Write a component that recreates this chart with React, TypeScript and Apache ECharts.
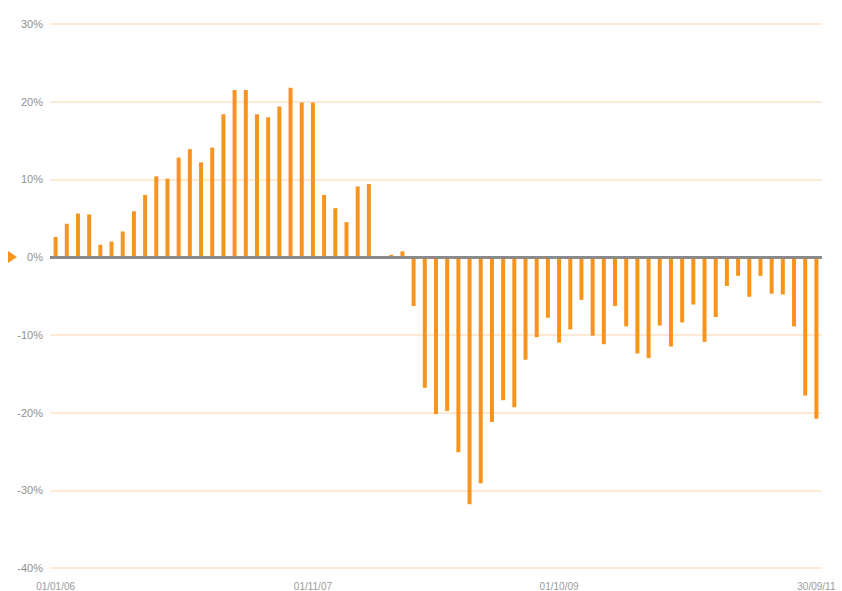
import React, { useEffect, useRef } from "react";
import * as echarts from "echarts";

// Monthly categories, Jan 2006 .. Sep 2011
const months: string[] = [];
for (let y = 2006; y <= 2011; y++) {
  for (let m = 1; m <= 12; m++) {
    if (y === 2011 && m > 9) break;
    months.push(`${y}-${String(m).padStart(2, "0")}`);
  }
}

// Monthly relative performance (%)
const values: number[] = [
  2.6, 4.3, 5.6, 5.5, 1.6, 2.0, 3.3, 5.9, 8.0, 10.4,
  10.1, 12.8, 13.9, 12.2, 14.1, 18.4, 21.5, 21.5, 18.4, 18.0,
  19.4, 21.8, 19.9, 19.9, 8.0, 6.3, 4.5, 9.1, 9.4, -0.1,
  0.3, 0.75, -6.3, -16.8, -20.2, -19.8, -25.1, -31.8, -29.1, -21.2,
  -18.4, -19.3, -13.2, -10.3, -7.8, -11.0, -9.3, -5.5, -10.1, -11.2,
  -6.3, -8.9, -12.4, -13.0, -8.8, -11.5, -8.4, -6.1, -10.9, -7.7,
  -3.7, -2.4, -5.1, -2.4, -4.7, -4.8, -8.9, -17.8, -20.8,
];

const xTickLabels = ["01/01/06", "01/11/07", "01/10/09", "30/09/11"];
const xTickIndex = [0, 23, 45, 68];

const yMin = -40;
const yMax = 30;
const yInterval = 10;

export default function App() {
  const ref = useRef<HTMLDivElement>(null);

  useEffect(() => {
    if (!ref.current) return;
    const chart = echarts.init(ref.current, undefined, { renderer: "svg" });
    chart.setOption({
      animation: false,
      backgroundColor: "#ffffff",
      grid: { left: 50, right: 20, top: 24, bottom: 23, containLabel: false },
      xAxis: {
        type: "category",
        data: months,
        boundaryGap: true,
        axisLine: { show: false },
        axisTick: { show: false },
        splitLine: { show: false },
        axisLabel: {
          interval: (i: number) => xTickIndex.indexOf(i) >= 0,
          formatter: (_v: string, i: number) => {
            const k = xTickIndex.indexOf(i);
            return k >= 0 ? xTickLabels[k] : "";
          },
          color: "#9a9a9a",
          fontFamily: "Liberation Sans",
          fontSize: 10,
          margin: 13,
          hideOverlap: false,
          showMinLabel: true,
          showMaxLabel: true,
        },
      },
      yAxis: {
        type: "value",
        min: yMin,
        max: yMax,
        interval: yInterval,
        axisLine: { show: false },
        axisTick: { show: false },
        axisLabel: {
          formatter: (v: number) => `${v}%`,
          color: "#8f8f8f",
          fontFamily: "Liberation Sans",
          fontSize: 11,
          margin: 7,
        },
        splitLine: { lineStyle: { color: "#fde2c6", width: 1.5 } },
      },
      series: [
        {
          type: "bar",
          data: values,
          barWidth: 4,
          itemStyle: { color: "#f7941d" },
          markLine: {
            silent: true,
            symbol: "none",
            label: { show: false },
            lineStyle: { color: "#8a8a8a", width: 3, type: "solid" },
            data: [{ yAxis: 0 }],
          },
        },
      ],
      graphic: [
        {
          type: "polygon",
          shape: { points: [[8, 251], [17, 257], [8, 263]] },
          style: { fill: "#f7941d" },
        },
      ],
    });
    return () => chart.dispose();
  }, []);

  return (
    <div
      ref={ref}
      style={{ position: "fixed", left: 0, top: 0, width: 842, height: 591 }}
    />
  );
}
